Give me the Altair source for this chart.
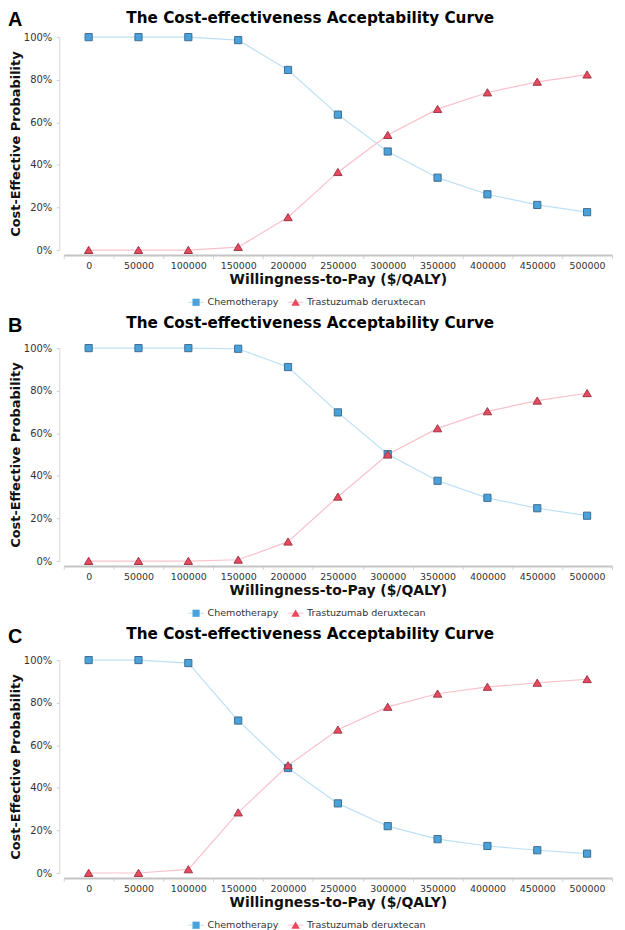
import altair as alt
import pandas as pd

# ---- data ----
wtp = ["0", "50000", "100000", "150000", "200000", "250000",
       "300000", "350000", "400000", "450000", "500000"]
series = ["Chemotherapy", "Trastuzumab deruxtecan"]
panel_letters = ["A", "B", "C"]
chart_title = "The Cost-effectiveness Acceptability Curve"
x_title = "Willingness-to-Pay ($/QALY)"
y_title = "Cost-Effective Probability"
y_ticks = [0, 20, 40, 60, 80, 100]

chemo_a = [100, 100, 100, 98.6, 84.6, 63.6, 46.3, 34.0, 26.2, 21.2, 17.8]
trast_a = [0, 0, 0, 1.4, 15.4, 36.6, 54.0, 66.2, 74.0, 79.0, 82.4]
chemo_b = [100, 100, 100, 99.7, 91.1, 69.8, 50.2, 37.7, 29.7, 24.8, 21.3]
trast_b = [0, 0, 0, 0.6, 9.1, 30.2, 50.0, 62.3, 70.3, 75.3, 78.8]
chemo_c = [100, 100, 98.6, 71.6, 49.3, 32.7, 22.0, 15.9, 12.7, 10.7, 9.1]
trast_c = [0, 0, 1.7, 28.4, 50.5, 67.3, 78.0, 84.2, 87.4, 89.3, 91.0]

# ---- styles ----
line_colors = ["#bde0f5", "#f9c1cb"]
fill_colors = ["#4aa2dc", "#e9485f"]
edge_colors = ["#3d6d90", "#9a3a48"]
shape_paths = [
    "M-1,0M1,0M-0.45,-0.45H0.45V0.45H-0.45Z",
    "M-1,0M1,0M0,-0.47L0.53,0.43L-0.53,0.43Z",
]
FONT = "DejaVu Sans"
LEG_X = 124.5
LEG_Y = 257.5


def legend(visible_labels):
    return alt.Legend(
        orient="none", legendX=LEG_X, legendY=LEG_Y, direction="horizontal",
        title=None, symbolSize=256, symbolStrokeWidth=1,
        labelFont=FONT, labelFontSize=9.6,
        labelColor="#333333" if visible_labels else "rgba(0,0,0,0)",
        labelOffset=3, columnPadding=6, zindex=0 if visible_labels else 1,
    )


def panel(letter, chemo, trast, title_offset, letter_y):
    df = pd.DataFrame({
        "wtp": wtp + wtp,
        "series": [series[0]] * len(wtp) + [series[1]] * len(wtp),
        "prob": chemo + trast,
    })
    x = alt.X("wtp:O", sort=wtp,
              scale=alt.Scale(type="band", paddingInner=0, paddingOuter=0),
              axis=alt.Axis(title=x_title, labelAngle=0, tickBand="extent",
                            offset=5, domainColor="#c4c4c4", domainWidth=2,
                            tickColor="#d2d2d2", tickSize=3.5, labelPadding=2.5,
                            labelFontSize=9.5, titleFontSize=14, titlePadding=2))
    y = alt.Y("prob:Q", scale=alt.Scale(domain=[0, 100], nice=False),
              axis=alt.Axis(title=y_title, values=y_ticks,
                            labelExpr="datum.value + '%'", offset=4.5, grid=False,
                            domainColor="#d6d6d6", domainWidth=1,
                            tickColor="#cccccc", tickSize=3, labelPadding=4.5,
                            labelFontSize=10, titleFontSize=13, titlePadding=1))
    lines = alt.Chart(df).mark_line(strokeWidth=1.2).encode(
        x=x, y=y,
        stroke=alt.Stroke("series:N", scale=alt.Scale(domain=series, range=line_colors),
                          legend=alt.Legend(symbolType="stroke", **legend(True).to_dict())),
    )
    pleg = legend(False)
    points = alt.Chart(df).mark_point(filled=True, size=256, strokeWidth=1, opacity=1).encode(
        x=x, y=y,
        fill=alt.Fill("series:N", scale=alt.Scale(domain=series, range=fill_colors), legend=pleg),
        shape=alt.Shape("series:N", scale=alt.Scale(domain=series, range=shape_paths), legend=pleg),
        stroke=alt.Stroke("series:N", scale=alt.Scale(domain=series, range=edge_colors), legend=None),
    )
    lab = alt.Chart(pd.DataFrame({"letter": [letter]})).mark_text(
        align="left", baseline="top", font="Liberation Sans", fontSize=20,
        fontWeight="bold", color="black",
    ).encode(text="letter:N", x=alt.value(-56), y=alt.value(letter_y))
    return alt.layer(lines, points, lab).resolve_scale(stroke="independent").properties(
        width=551, height=214,
        title=alt.TitleParams(chart_title, font=FONT, fontSize=15.3, fontWeight="bold",
                              anchor="middle", frame="bounds", offset=title_offset,
                              color="black"),
    )


pa = panel(panel_letters[0], chemo_a, trast_a, -16.5, -27)
pb = panel(panel_letters[1], chemo_b, trast_b, -15, -32)
pc = panel(panel_letters[2], chemo_c, trast_c, -15, -33)

chart = alt.vconcat(pa, pb, pc, spacing=6.5).resolve_scale(
    x="independent", y="independent", stroke="independent",
    fill="independent", shape="independent",
).configure_view(stroke=None).configure_axis(
    labelFont=FONT, titleFont=FONT, labelColor="#333333", titleColor="#111111",
    titleFontWeight="bold",
).properties(padding={"left": 0, "top": 0, "right": 4, "bottom": 0}, background="white")

chart.save("out.html", embed_options={"renderer": "svg", "actions": False})
